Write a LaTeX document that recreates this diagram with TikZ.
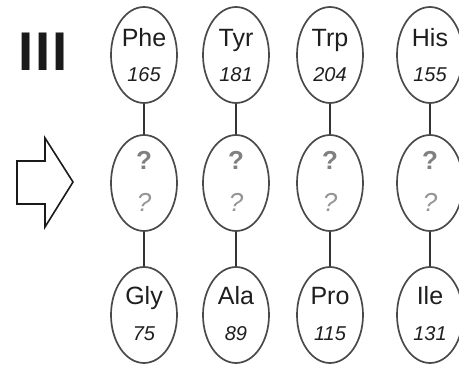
\documentclass[tikz,border=0pt]{standalone}
\usepackage{fontspec}
\setmainfont{Liberation Sans}
\usetikzlibrary{shapes.geometric}
\definecolor{edgec}{HTML}{4A4A4A}
\definecolor{linec}{HTML}{333333}
\definecolor{txt}{HTML}{1E1E1E}
\definecolor{qgrey}{HTML}{808080}
\definecolor{qlight}{HTML}{959595}
\definecolor{barc}{HTML}{1A1A1A}
\begin{document}
\begin{tikzpicture}[x=1pt,y=1pt,
  aa/.style={ellipse,draw=edgec,line width=1.7pt,minimum width=66pt,minimum height=96pt,inner sep=0pt},
  nm/.style={anchor=base,inner sep=0pt,font=\fontsize{25}{25}\selectfont,text=txt},
  num/.style={anchor=base,inner sep=0pt,font=\fontsize{20}{20}\selectfont\itshape,text=txt},
  qa/.style={anchor=base,inner sep=0pt,font=\fontsize{26}{26}\selectfont\bfseries,text=qgrey},
  qb/.style={anchor=base,inner sep=0pt,font=\fontsize{26}{26}\selectfont\itshape,text=qlight},
  link/.style={draw=linec,line width=2pt},
  arrowc/.style={draw=barc,line width=1.6pt,line join=miter}]
\useasboundingbox (0,0) rectangle (459,365);
\clip (0,0) rectangle (459,365);
% roman numeral
\node[anchor=base west,inner sep=0pt,font=\fontsize{54.5}{55}\selectfont\bfseries,text=barc] (roman) at (18.5,294) {I\kern1.8ptI\kern1.8ptI};
% hollow arrow
\draw[arrowc] (17,204) -- (45,204) -- (45,227) -- (73,183) -- (45,138) -- (45,161) -- (17,161) -- cycle;
\foreach \i/\x/\a/\na/\b/\nb in {1/144/Phe/165/Gly/75, 2/236/Tyr/181/Ala/89, 3/330/Trp/204/Pro/115, 4/430/His/155/Ile/131}{
  \node[aa] (t\i) at (\x,310) {};
  \node[aa] (m\i) at (\x,182) {};
  \node[aa] (b\i) at (\x,50) {};
  \node[nm] (tn\i) at (\x,318.3) {\a};
  \node[num] (tv\i) at (\x,283.3) {\na};
  \node[qa] (mq\i) at (\x,195.5) {?};
  \node[qb] (mv\i) at (\x,153.5) {?};
  \node[nm] (bn\i) at (\x,60) {\b};
  \node[num] (bv\i) at (\x,24.3) {\nb};
  \draw[link] (t\i) -- (m\i);
  \draw[link] (m\i) -- (b\i);
}
\end{tikzpicture}
\end{document}
